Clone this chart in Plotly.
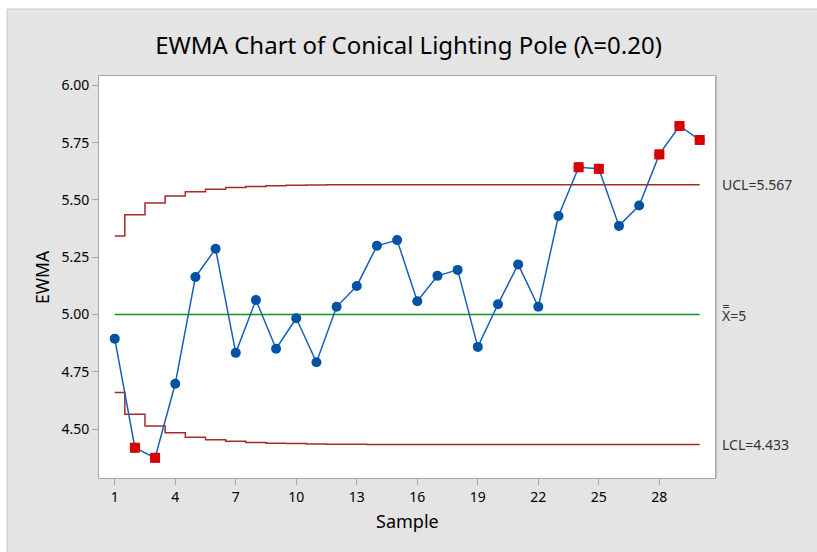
import plotly.graph_objects as go

samples = list(range(1, 31))
ewma = [4.895, 4.419, 4.375, 4.698, 5.164, 5.287, 4.833, 5.064, 4.851, 4.984,
        4.792, 5.034, 5.125, 5.300, 5.325, 5.058, 5.169, 5.195, 4.859, 5.045,
        5.219, 5.034, 5.430, 5.643, 5.636, 5.387, 5.476, 5.699, 5.823, 5.762]
ucl = [5.343, 5.436, 5.487, 5.517, 5.536, 5.547, 5.554, 5.559, 5.562, 5.564,
       5.565, 5.566, 5.566, 5.567, 5.567, 5.567, 5.567, 5.567, 5.567, 5.567,
       5.567, 5.567, 5.567, 5.567, 5.567, 5.567, 5.567, 5.567, 5.567, 5.567]
lcl = [4.660, 4.565, 4.514, 4.484, 4.465, 4.454, 4.447, 4.442, 4.439, 4.437,
       4.435, 4.434, 4.434, 4.433, 4.433, 4.433, 4.433, 4.433, 4.433, 4.433,
       4.433, 4.433, 4.433, 4.433, 4.433, 4.433, 4.433, 4.433, 4.433, 4.433]
center = 5.0
out_of_control = [2, 3, 24, 25, 28, 29, 30]
x_ticks = [1, 4, 7, 10, 13, 16, 19, 22, 25, 28]
y_ticks = [4.50, 4.75, 5.00, 5.25, 5.50, 5.75, 6.00]
limit_labels = ["UCL=5.567", "X\u033f=5", "LCL=4.433"]

FONT = "Noto Sans"
W, H = 817, 552
L, R, T, B = 99, 715, 76, 478

fig = go.Figure()
fig.add_trace(go.Scatter(x=samples, y=ucl, mode="lines", line=dict(color="#a52a2a", width=1.5, shape="hvh"), hoverinfo="skip"))
fig.add_trace(go.Scatter(x=samples, y=lcl, mode="lines", line=dict(color="#a52a2a", width=1.5, shape="hvh"), hoverinfo="skip"))
fig.add_trace(go.Scatter(x=[samples[0], samples[-1]], y=[center, center], mode="lines", line=dict(color="#14921e", width=1.5), hoverinfo="skip"))
fig.add_trace(go.Scatter(x=samples, y=ewma, mode="lines+markers", line=dict(color="#1a5fb4", width=1.5),
                         marker=dict(color="#0052a3", size=10, symbol="circle")))
oc_x = out_of_control
oc_y = [ewma[i - 1] for i in out_of_control]
fig.add_trace(go.Scatter(x=oc_x, y=oc_y, mode="markers",
                         marker=dict(color="#d90000", size=10, symbol="square", line=dict(width=0))))

def px_x(p):
    return (p - L) / (R - L)

def px_y(p):
    return (B - p) / (B - T)

shapes = [
    dict(type="rect", xref="paper", yref="paper", x0=px_x(0), x1=px_x(W), y0=px_y(0), y1=px_y(9),
         fillcolor="white", line=dict(width=0), layer="below"),
    dict(type="rect", xref="paper", yref="paper", x0=px_x(0), x1=px_x(7), y0=px_y(0), y1=px_y(H),
         fillcolor="white", line=dict(width=0), layer="below"),
    dict(type="line", xref="paper", yref="paper", x0=px_x(7), x1=px_x(W), y0=px_y(9), y1=px_y(9),
         line=dict(color="#c8c8c8", width=1)),
    dict(type="line", xref="paper", yref="paper", x0=px_x(7), x1=px_x(7), y0=px_y(9), y1=px_y(H),
         line=dict(color="#c8c8c8", width=1)),
    dict(type="line", xref="paper", yref="paper", x0=px_x(716), x1=px_x(716), y0=0, y1=1,
         line=dict(color="#b0b0b0", width=1.5)),
]

annotations = [
    dict(text="EWMA", x=px_x(42), y=0.5, xref="paper", yref="paper", textangle=-90, showarrow=False,
         xanchor="center", yanchor="middle", font=dict(family=FONT, size=17.5, color="#000")),
    dict(text="Sample", x=0.5, y=px_y(521), xref="paper", yref="paper", showarrow=False,
         xanchor="center", yanchor="middle", font=dict(family=FONT, size=18, color="#000")),
]
for lbl, yv in zip(limit_labels, [ucl[-1], center, lcl[-1]]):
    annotations.append(dict(text=lbl, x=px_x(720), y=yv, xref="paper", yref="y", xanchor="left",
                            yanchor="middle", showarrow=False, font=dict(family=FONT, size=14, color="#333")))

fig.update_layout(
    width=W, height=H,
    margin=dict(l=L, r=W - R, t=T, b=H - B),
    paper_bgcolor="#e4e4e4", plot_bgcolor="white",
    showlegend=False,
    title=dict(text="EWMA Chart of Conical Lighting Pole (\u03bb=0.20)", x=0.5, xanchor="center",
               y=1 - 46 / H, yanchor="middle", font=dict(family=FONT, size=24, color="#000")),
    xaxis=dict(range=[0.22, 30.76], tickvals=x_ticks, showgrid=False, zeroline=False,
               showline=True, mirror=True, linecolor="#a8a8a8", linewidth=1,
               ticks="outside", ticklen=6, tickcolor="#a8a8a8",
               tickfont=dict(family=FONT, size=14, color="#000")),
    yaxis=dict(range=[4.287, 6.041], tickvals=y_ticks, tickformat=".2f", showgrid=False, zeroline=False,
               showline=True, mirror=True, linecolor="#a8a8a8", linewidth=1,
               ticks="outside", ticklen=6, tickcolor="#a8a8a8",
               tickfont=dict(family=FONT, size=14, color="#000")),
    shapes=shapes, annotations=annotations,
)

fig.write_html("out.html", config={"displayModeBar": False},
               post_script="document.body.style.margin='0';")
